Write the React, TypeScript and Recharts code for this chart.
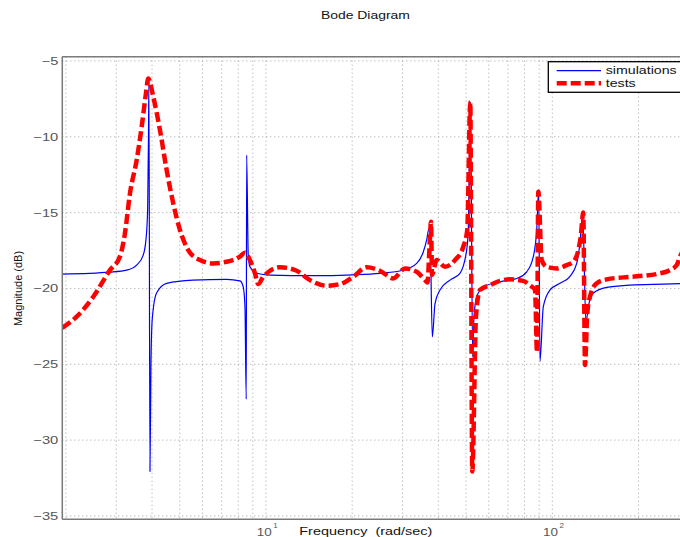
import React from 'react';
import { CartesianGrid, Line, LineChart, ReferenceLine, XAxis, YAxis } from 'recharts';

// simulations (thin blue)
const simFreq = [1.944, 2.852, 3.262, 3.535, 3.727, 3.809, 3.862, 3.888, 3.902, 3.934, 3.966, 4.008, 4.149, 4.5, 5.559, 7.289, 8.112, 8.33, 8.446, 8.534, 8.561, 8.672, 8.793, 9.279, 10.33, 14.6, 20.13, 25.01, 30.1, 33.6, 35.43, 36.42, 37.1, 37.4, 38.1, 38.94, 40.53, 43.92, 47.6, 50.23, 50.88, 51.79, 52.72, 53.27, 54.44, 57.41, 65.65, 75.11, 81.42, 85.84, 88.22, 89.65, 90.57, 93.02, 98.17, 106.4, 115.3, 121.7, 124.9, 127.7, 131.1, 133.6, 139.1, 154.9, 186.8, 244.2, 300];
const simMag = [-19.05, -18.92, -18.79, -18.46, -17.8, -16.8, -14.8, -10, -6.2, -32.07, -25, -22, -20.3, -19.66, -19.45, -19.4, -19.5, -19.9, -21.2, -27.3, -11.2, -17.8, -18.57, -19.0, -19.12, -19.16, -19.1, -19.0, -18.8, -18.35, -17.6, -16.8, -16.05, -16.1, -23.2, -21.0, -20.1, -19.45, -19.0, -17.47, -16.15, -7.7, -24.5, -21.9, -20.55, -19.9, -19.56, -19.34, -18.9, -17.9, -16.15, -13.5, -24.8, -21.2, -20.1, -19.66, -19.2, -18.35, -17.0, -15.1, -22.3, -21.2, -20.3, -19.93, -19.78, -19.71, -19.66];

// tests (thick red dashed)
const testFreq = [1.944, 2.182, 2.494, 2.852, 3.09, 3.217, 3.35, 3.535, 3.68, 3.809, 3.881, 4.041, 4.265, 4.5, 4.746, 5.008, 5.353, 5.882, 6.545, 7.289, 8.112, 8.446, 8.793, 9.154, 9.4, 9.786, 11.19, 12.8, 14.25, 16.29, 18.13, 20.18, 22.47, 25.01, 27.84, 30.59, 33.6, 35.93, 36.66, 37.26, 37.71, 38.01, 39.47, 42.19, 45.72, 48.88, 50.47, 51.71, 52.55, 54.14, 55.91, 60.58, 65.65, 71.16, 79.2, 83.59, 87.04, 88.43, 89.37, 91.83, 95.59, 103.6, 112.3, 118.4, 123.3, 125.7, 128.3, 130.1, 132.5, 135.4, 142.9, 154.9, 177, 202.5, 231.5, 257.7, 272, 279.3, 290];
const testMag = [-22.6, -21.86, -20.55, -18.79, -17.9, -16.37, -13.73, -11.54, -9.35, -7.15, -6.16, -7.37, -9.57, -12.2, -14.4, -16.15, -17.47, -18.13, -18.35, -18.24, -17.9, -17.65, -18.13, -19.0, -19.71, -19.23, -18.6, -18.83, -19.45, -19.82, -19.71, -19.23, -18.6, -18.83, -19.34, -18.68, -18.9, -19.45, -19.6, -17.25, -15.6, -19.1, -18.13, -18.57, -18.13, -17.25, -16.15, -7.7, -32.07, -21.86, -20.1, -19.78, -19.5, -19.4, -19.5, -19.8, -20.1, -24.2, -13.63, -18.13, -18.57, -18.68, -18.46, -18.24, -17.47, -16.59, -15.0, -25.05, -21.64, -20.55, -19.66, -19.4, -19.27, -19.18, -19.05, -18.79, -18.46, -17.9, -17.3];

const xTicks = [2, 3, 4, 5, 6, 7, 8, 9, 10, 20, 30, 40, 50, 60, 70, 80, 90, 100, 200];
const yTicks = [-35, -30, -25, -20, -15, -10, -5];

const simData = simFreq.map((f, i) => ({ f, m: simMag[i] }));
const testData = testFreq.map((f, i) => ({ f, m: testMag[i] }));

const font = '"Liberation Sans", Arial, Helvetica, sans-serif';
const frame = '#7a7a7a';

const XTick = (props: any) => {
    const { x, y, payload } = props;
    const v = payload.value;
    if (v !== 10 && v !== 100) return null;
    return (
        <g fontFamily={font} fill="#555">
            <text x={x - 9.3} y={y + 16.2} fontSize={11} textLength={15} lengthAdjust="spacingAndGlyphs">10</text>
            <text x={x + 7.3} y={y + 8.5} fontSize={8}>{v === 10 ? '1' : '2'}</text>
        </g>
    );
};

const YTick = (props: any) => {
    const { x, y, payload } = props;
    const label = '\u2212' + Math.abs(payload.value);
    return (
        <text x={x} y={y + 4} textAnchor="end" fontFamily={font} fontSize={11} fill="#555"
            textLength={label.length > 2 ? 25 : 16.6} lengthAdjust="spacingAndGlyphs">
            {label}
        </text>
    );
};

export default function App() {
    return (
        <div style={{ position: 'absolute', left: 0, top: 0, width: 680, height: 537, overflow: 'hidden', background: '#fff' }}>
            <LineChart width={700} height={537} margin={{ top: 56.7, right: 11.1, bottom: 0, left: 0 }}>
                <CartesianGrid stroke="#a0a0a0" strokeDasharray="1 3" />
                <XAxis type="number" dataKey="f" scale="log" domain={[1.944, 300]} allowDataOverflow
                    ticks={xTicks} interval={0} height={17.7} tickLine={false} tickSize={0} tickMargin={0}
                    axisLine={{ stroke: frame, strokeWidth: 1.5 }} tick={<XTick />} />
                <YAxis type="number" domain={[-35.22, -4.72]} allowDataOverflow ticks={yTicks} interval={0}
                    width={62.3} tickLine={false} tickSize={0} tickMargin={4}
                    axisLine={{ stroke: frame, strokeWidth: 1.5 }} tick={<YTick />} />
                <ReferenceLine y={-4.72} stroke={frame} strokeWidth={1.5} />
                <Line data={simData} dataKey="m" type="monotoneX" stroke="#0000ff" strokeWidth={1.2}
                    dot={false} activeDot={false} isAnimationActive={false} />
                <Line data={testData} dataKey="m" type="monotoneX" stroke="#ff0000" strokeWidth={4.5}
                    strokeDasharray="10 4" dot={false} activeDot={false} isAnimationActive={false} />

                <text x={365.4} y={19} textAnchor="middle" fontFamily={font} fontSize={11} fill="#111"
                    textLength={89} lengthAdjust="spacingAndGlyphs">Bode Diagram</text>
                <text x={299.3} y={534.5} fontFamily={font} fontSize={11} fill="#111"
                    textLength={133} lengthAdjust="spacingAndGlyphs" xmlSpace="preserve">Frequency  (rad/sec)</text>
                <text x={22} y={288.5} transform="rotate(-90 22 288.5)" textAnchor="middle" fontFamily={font}
                    fontSize={11} fill="#111">Magnitude (dB)</text>

                <g>
                    <rect x={548.3} y={61.7} width={150} height={30.6} fill="#fff" stroke="#000" strokeWidth={1.3} />
                    <line x1={556.7} y1={70.7} x2={601} y2={70.7} stroke="#0000ff" strokeWidth={1.2} />
                    <line x1={556.7} y1={83.3} x2={601} y2={83.3} stroke="#ff0000" strokeWidth={4.5} strokeDasharray="10 4" />
                    <text x={605.7} y={74} fontFamily={font} fontSize={11} fill="#111"
                        textLength={71} lengthAdjust="spacingAndGlyphs">simulations</text>
                    <text x={605.7} y={87.3} fontFamily={font} fontSize={11} fill="#111"
                        textLength={30} lengthAdjust="spacingAndGlyphs">tests</text>
                </g>
            </LineChart>
        </div>
    );
}
